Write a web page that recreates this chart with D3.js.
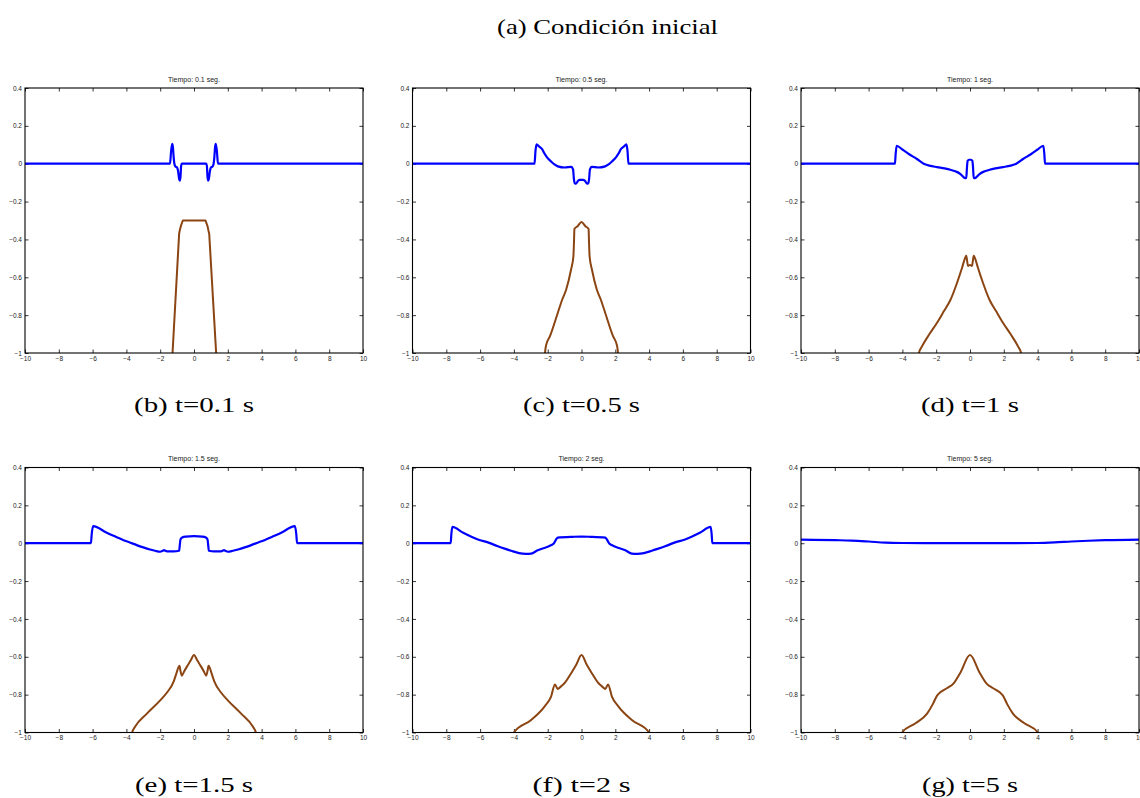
<!DOCTYPE html>
<html>
<head>
<meta charset="utf-8">
<script src="https://cdn.jsdelivr.net/npm/d3@7"></script>
<style>
  html, body { margin: 0; padding: 0; background: #fff; }
  svg { display: block; }
</style>
</head>
<body>
<svg id="fig" width="1140" height="798"></svg>
<script>
// Simulation snapshots: time labels, sub-figure captions and axis ticks
const times = ["0.1", "0.5", "1", "1.5", "2", "5"];
const captions = ["(b) t=0.1 s", "(c) t=0.5 s", "(d) t=1 s", "(e) t=1.5 s", "(f) t=2 s", "(g) t=5 s"];
const figureTitle = "(a) Condición inicial";
const xTicks = [-10, -8, -6, -4, -2, 0, 2, 4, 6, 8, 10];
const xTickLabels = ["−10", "−8", "−6", "−4", "−2", "0", "2", "4", "6", "8", "10"];
const yTicks = [-1, -0.8, -0.6, -0.4, -0.2, 0, 0.2, 0.4];
const yTickLabels = ["−1", "−0.8", "−0.6", "−0.4", "−0.2", "0", "0.2", "0.4"];

// Surface (blue) and bottom (brown) profiles, [x, y] pairs per snapshot
const surfaceT01 = [[-10,0],[-1.42,0],[-1.36,0.06],[-1.29,0.105],[-1.25,0.09],[-1.2,0.03],[-1.16,0],[-1.1,-0.015],[-1.0,-0.02],[-0.94,-0.04],[-0.88,-0.08],[-0.84,-0.09],[-0.8,-0.07],[-0.76,-0.01],[-0.72,0],[0.72,0],[0.76,-0.01],[0.8,-0.07],[0.84,-0.09],[0.88,-0.08],[0.94,-0.04],[1.0,-0.02],[1.1,-0.015],[1.16,0],[1.2,0.03],[1.25,0.09],[1.29,0.105],[1.36,0.06],[1.42,0],[10,0]];
const bottomT01 = [[-1.3,-1.05],[-1.27,-1],[-0.88,-0.37],[-0.85,-0.355],[-0.78,-0.33],[-0.66,-0.3],[0.68,-0.3],[0.8,-0.33],[0.86,-0.355],[0.9,-0.37],[1.31,-1],[1.34,-1.05]];

const surfaceT05 = [[-10,0],[-2.78,0],[-2.72,0.07],[-2.66,0.102],[-2.5,0.09],[-2.33,0.077],[-2.2,0.055],[-2.05,0.035],[-1.8,0.012],[-1.6,-0.004],[-1.4,-0.014],[-1.0,-0.02],[-0.6,-0.017],[-0.5,-0.03],[-0.45,-0.08],[-0.4,-0.103],[-0.32,-0.105],[-0.2,-0.09],[-0.1,-0.085],[0.1,-0.085],[0.2,-0.09],[0.32,-0.105],[0.4,-0.103],[0.45,-0.08],[0.5,-0.03],[0.6,-0.017],[1.0,-0.02],[1.4,-0.014],[1.6,-0.004],[1.8,0.012],[2.05,0.035],[2.2,0.055],[2.33,0.077],[2.5,0.09],[2.66,0.102],[2.72,0.07],[2.78,0],[10,0]];
const bottomT05 = [[-2.2,-1.05],[-2.16,-1],[-2.1,-0.96],[-1.86,-0.91],[-1.41,-0.79],[-1.15,-0.72],[-0.91,-0.666],[-0.62,-0.56],[-0.48,-0.49],[-0.44,-0.40],[-0.42,-0.345],[-0.23,-0.33],[0,-0.308],[0.23,-0.33],[0.42,-0.345],[0.44,-0.40],[0.48,-0.49],[0.62,-0.56],[0.91,-0.666],[1.15,-0.72],[1.41,-0.79],[1.86,-0.91],[2.1,-0.96],[2.16,-1],[2.2,-1.05]];

const surfaceT1 = [[-10,0],[-4.44,0],[-4.4,0.05],[-4.34,0.095],[-4.0,0.075],[-3.6,0.05],[-3.14,0.025],[-2.74,0],[-2.4,-0.01],[-1.95,-0.018],[-1.5,-0.025],[-1.16,-0.032],[-0.87,-0.04],[-0.6,-0.052],[-0.47,-0.063],[-0.3,-0.076],[-0.22,-0.075],[-0.18,-0.02],[-0.14,0.015],[-0.06,0.021],[0.06,0.021],[0.14,0.015],[0.18,-0.02],[0.22,-0.075],[0.3,-0.076],[0.47,-0.063],[0.6,-0.052],[0.87,-0.04],[1.16,-0.032],[1.5,-0.025],[1.95,-0.018],[2.4,-0.01],[2.74,0],[3.14,0.025],[3.6,0.05],[4.0,0.075],[4.34,0.095],[4.4,0.05],[4.44,0],[10,0]];
const bottomT1 = [[-3.06,-1.05],[-3.02,-1],[-2.84,-0.965],[-2.4,-0.9],[-1.95,-0.84],[-1.55,-0.78],[-1.16,-0.72],[-0.77,-0.63],[-0.47,-0.55],[-0.3,-0.5],[-0.22,-0.486],[-0.16,-0.52],[-0.12,-0.54],[0,-0.535],[0.12,-0.54],[0.16,-0.52],[0.22,-0.486],[0.3,-0.5],[0.47,-0.55],[0.77,-0.63],[1.16,-0.72],[1.55,-0.78],[1.95,-0.84],[2.4,-0.9],[2.84,-0.965],[3.02,-1],[3.06,-1.05]];

const surfaceT15 = [[-10,0],[-6.1,0],[-6.05,0.05],[-5.97,0.09],[-5.16,0.055],[-4.6,0.033],[-4.17,0.016],[-3.8,0.004],[-3.39,-0.01],[-3.0,-0.022],[-2.6,-0.033],[-2.3,-0.04],[-2.0,-0.045],[-1.85,-0.04],[-1.78,-0.037],[-1.6,-0.043],[-1.2,-0.043],[-0.88,-0.04],[-0.84,-0.01],[-0.8,0.02],[-0.7,0.03],[-0.5,0.035],[0,0.037],[0.5,0.035],[0.7,0.03],[0.8,0.02],[0.84,-0.01],[0.88,-0.04],[1.2,-0.043],[1.6,-0.043],[1.78,-0.037],[1.85,-0.04],[2.0,-0.045],[2.3,-0.04],[2.6,-0.033],[3.0,-0.022],[3.39,-0.01],[3.8,0.004],[4.17,0.016],[4.6,0.033],[5.16,0.055],[5.97,0.09],[6.05,0.05],[6.1,0],[10,0]];
const bottomT15 = [[-3.7,-1.05],[-3.66,-1],[-3.49,-0.97],[-2.79,-0.9],[-2.0,-0.83],[-1.61,-0.79],[-1.2,-0.73],[-1.05,-0.69],[-0.86,-0.648],[-0.8,-0.675],[-0.72,-0.70],[-0.6,-0.68],[-0.42,-0.652],[-0.2,-0.62],[0,-0.59],[0.2,-0.62],[0.42,-0.652],[0.6,-0.68],[0.72,-0.70],[0.8,-0.675],[0.86,-0.648],[1.05,-0.69],[1.2,-0.73],[1.61,-0.79],[2.0,-0.83],[2.79,-0.9],[3.49,-0.97],[3.66,-1],[3.7,-1.05]];

const surfaceT2 = [[-10,0],[-7.74,0],[-7.7,0.05],[-7.64,0.086],[-7.0,0.055],[-6.13,0.02],[-5.5,0.003],[-4.95,-0.016],[-4.5,-0.03],[-4.16,-0.04],[-3.7,-0.052],[-3.3,-0.056],[-2.98,-0.055],[-2.59,-0.037],[-2.3,-0.028],[-2.0,-0.019],[-1.75,-0.008],[-1.64,-0.002],[-1.5,0.02],[-1.41,0.03],[-0.5,0.034],[0,0.035],[0.5,0.034],[1.41,0.03],[1.5,0.02],[1.64,-0.002],[1.75,-0.008],[2.0,-0.019],[2.3,-0.028],[2.59,-0.037],[2.98,-0.055],[3.3,-0.056],[3.7,-0.052],[4.16,-0.04],[4.5,-0.03],[4.95,-0.016],[5.5,0.003],[6.13,0.02],[7.0,0.055],[7.64,0.086],[7.7,0.05],[7.74,0],[10,0]];
const bottomT2 = [[-4.05,-1.05],[-4.0,-1],[-2.98,-0.934],[-2.19,-0.863],[-1.8,-0.81],[-1.57,-0.746],[-1.41,-0.77],[-1.2,-0.755],[-1.01,-0.74],[-0.62,-0.688],[-0.32,-0.644],[0,-0.591],[0.32,-0.644],[0.62,-0.688],[1.01,-0.74],[1.2,-0.755],[1.41,-0.77],[1.57,-0.746],[1.8,-0.81],[2.19,-0.863],[2.98,-0.934],[4.0,-1],[4.05,-1.05]];

const surfaceT5 = [[-10,0.019],[-8,0.016],[-7,0.014],[-6,0.009],[-5,0.003],[-4,0.001],[-2,0],[0,0],[2,0],[4,0.001],[5,0.004],[6,0.009],[7,0.013],[8,0.016],[10,0.019]];
const bottomT5 = [[-4.07,-1.05],[-4.02,-1],[-3.2,-0.95],[-2.54,-0.9],[-2.2,-0.85],[-1.95,-0.805],[-1.76,-0.788],[-1.35,-0.765],[-0.97,-0.74],[-0.57,-0.684],[0,-0.591],[0.57,-0.684],[0.97,-0.74],[1.35,-0.765],[1.76,-0.788],[1.95,-0.805],[2.2,-0.85],[2.54,-0.9],[3.2,-0.95],[4.02,-1],[4.07,-1.05]];

const surfaces = [surfaceT01, surfaceT05, surfaceT1, surfaceT15, surfaceT2, surfaceT5];
const bottoms = [bottomT01, bottomT05, bottomT1, bottomT15, bottomT2, bottomT5];

// Layout
const svg = d3.select("#fig");
const colLeft = [25, 412.5, 801];
const rowTop = [88, 467.5];
const plotW = 338, plotH = 265;
const tickLen = 3.5;
const captionWidths = [120, 117, 98, 118, 98, 96];
const serif = "'Liberation Serif', 'Times New Roman', serif";

svg.append("text")
  .attr("x", 607.5).attr("y", 34)
  .attr("text-anchor", "middle")
  .attr("font-family", serif)
  .attr("font-size", 21)
  .attr("textLength", 221)
  .attr("lengthAdjust", "spacingAndGlyphs")
  .attr("fill", "#000")
  .text(figureTitle);

const x = d3.scaleLinear().domain([-10, 10]).range([0, plotW]);
const y = d3.scaleLinear().domain([-1, 0.4]).range([plotH, 0]);
const smooth = d3.line().x(d => x(d[0])).y(d => y(d[1])).curve(d3.curveMonotoneX);
const straight = d3.line().x(d => x(d[0])).y(d => y(d[1])).curve(d3.curveLinear);

times.forEach((t, i) => {
  const col = i % 3, row = Math.floor(i / 3);
  const g = svg.append("g").attr("transform", `translate(${colLeft[col]},${rowTop[row]})`);

  const clipId = `clip${i}`;
  g.append("clipPath").attr("id", clipId)
    .append("rect").attr("width", plotW).attr("height", plotH);

  // panel title
  g.append("text")
    .attr("x", plotW / 2).attr("y", -6.5)
    .attr("text-anchor", "middle")
    .attr("font-family", "'Liberation Sans', Arial, sans-serif")
    .attr("font-size", 7)
    .attr("fill", "#222")
    .text(`Tiempo: ${t} seg.`);

  // axes with inward ticks on all four sides
  const ax = (gen, tr, ticks, labels) => {
    const a = g.append("g").attr("transform", tr)
      .call(gen.tickValues(ticks).tickSize(-tickLen).tickPadding(3)
        .tickFormat((d, k) => labels ? labels[k] : ""));
    a.select(".domain").remove();
    a.selectAll(".tick line").attr("stroke", "#000").attr("stroke-width", 0.8);
    a.selectAll(".tick text")
      .attr("font-family", "'Liberation Sans', Arial, sans-serif")
      .attr("font-size", 6.5)
      .attr("fill", "#222");
    return a;
  };
  ax(d3.axisBottom(x), `translate(0,${plotH})`, xTicks, xTickLabels);
  ax(d3.axisTop(x), `translate(0,0)`, xTicks, null);
  ax(d3.axisLeft(y), `translate(0,0)`, yTicks, yTickLabels);
  ax(d3.axisRight(y), `translate(${plotW},0)`, yTicks, null);

  const curves = g.append("g").attr("clip-path", `url(#${clipId})`);
  curves.append("path").datum(surfaces[i])
    .attr("d", smooth).attr("fill", "none")
    .attr("stroke", "#0000ff").attr("stroke-width", 2.2)
    .attr("stroke-linejoin", "round");
  curves.append("path").datum(bottoms[i])
    .attr("d", i === 0 ? straight : smooth).attr("fill", "none")
    .attr("stroke", "#8b4513").attr("stroke-width", 2)
    .attr("stroke-linejoin", "round");

  // plot box
  g.append("rect").attr("width", plotW).attr("height", plotH)
    .attr("fill", "none").attr("stroke", "#000").attr("stroke-width", 1.1);

  // sub-figure caption
  g.append("text")
    .attr("x", plotW / 2).attr("y", plotH + 59)
    .attr("text-anchor", "middle")
    .attr("font-family", serif)
    .attr("font-size", 20)
    .attr("textLength", captionWidths[i])
    .attr("lengthAdjust", "spacingAndGlyphs")
    .attr("fill", "#000")
    .text(captions[i]);
});
</script>
</body>
</html>
